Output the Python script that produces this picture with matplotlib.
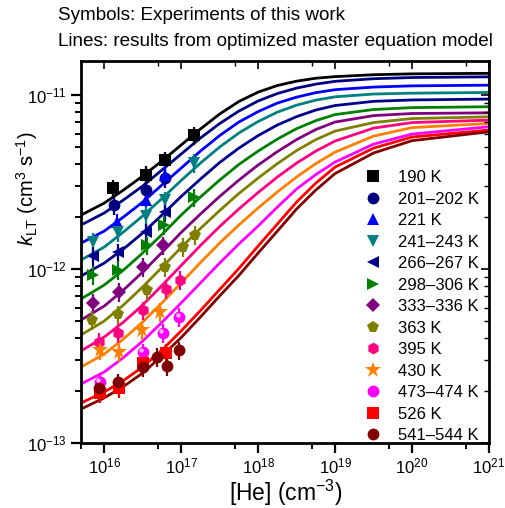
import numpy as np
import matplotlib
matplotlib.use('Agg')
import matplotlib.pyplot as plt
from matplotlib.ticker import FixedLocator, NullFormatter, LogFormatterSciNotation
from matplotlib.lines import Line2D
from matplotlib.transforms import offset_copy

plt.rcParams['font.family'] = ['Liberation Sans', 'DejaVu Sans']
plt.rcParams['mathtext.fontset'] = 'custom'
plt.rcParams['mathtext.rm'] = 'Liberation Sans'
plt.rcParams['mathtext.it'] = 'Liberation Sans:italic'
plt.rcParams['mathtext.bf'] = 'Liberation Sans:bold'

# ---------------- data ----------------
labels = ['190 K', '201–202 K', '221 K', '241–243 K', '266–267 K', '298–306 K',
          '333–336 K', '363 K', '395 K', '430 K', '473–474 K', '526 K', '541–544 K']
colors = ['#000000', '#000080', '#0000FF', '#008080', '#00008B', '#008000',
          '#800080', '#808000', '#FF0080', '#FF8000', '#FF00FF', '#FF0000', '#800000']
markers = ['s', 'o', '^', 'v', '<', '>', 'D', 'p', 'h', '*', 'o', 's', 'o']

# axis ticks
x_major = [1e16, 1e17, 1e18, 1e19, 1e20, 1e21]
x_minor = [5e15, 5e16, 5e17, 5e18, 5e19, 5e20]
y_major = [1e-13, 1e-12, 1e-11]
y_minor = [m * 10.0 ** e for e in (-13, -12, -11) for m in range(2, 10) if m * 10.0 ** e < 1.57e-11]

# model grid ([He], cm^-3)
he_model = [5e15, 1e16, 1.78e16, 3.16e16, 5.62e16, 1e17, 1.78e17, 3.16e17, 5.62e17,
            1e18, 1.78e18, 3.16e18, 5.62e18, 1e19, 3.16e19, 1e20, 1e21]
# model log10(k_LT / cm^3 s^-1)
m190 = [-11.690, -11.621, -11.546, -11.466, -11.379, -11.287, -11.195, -11.109, -11.037,
        -10.983, -10.945, -10.920, -10.903, -10.894, -10.883, -10.878, -10.875]
m201 = [-11.747, -11.678, -11.603, -11.523, -11.431, -11.339, -11.247, -11.164, -11.092,
        -11.034, -10.991, -10.960, -10.937, -10.921, -10.906, -10.899, -10.895]
m221 = [-11.851, -11.782, -11.701, -11.615, -11.517, -11.420, -11.322, -11.233, -11.155,
        -11.095, -11.046, -11.012, -10.986, -10.969, -10.954, -10.947, -10.943]
m241 = [-11.948, -11.874, -11.787, -11.695, -11.595, -11.491, -11.391, -11.299, -11.218,
        -11.152, -11.098, -11.058, -11.029, -11.010, -10.994, -10.989, -10.985]
m266 = [-12.040, -11.966, -11.885, -11.793, -11.690, -11.583, -11.483, -11.388, -11.305,
        -11.233, -11.172, -11.124, -11.086, -11.060, -11.036, -11.028, -11.023]
m298 = [-12.172, -12.092, -12.006, -11.908, -11.802, -11.690, -11.586, -11.489, -11.399,
        -11.322, -11.253, -11.193, -11.147, -11.112, -11.083, -11.072, -11.067]
m333 = [-12.293, -12.213, -12.121, -12.017, -11.905, -11.790, -11.684, -11.583, -11.489,
        -11.402, -11.325, -11.256, -11.198, -11.155, -11.118, -11.106, -11.102]
m363 = [-12.379, -12.299, -12.207, -12.103, -11.991, -11.876, -11.767, -11.664, -11.566,
        -11.477, -11.394, -11.319, -11.256, -11.207, -11.158, -11.135, -11.125]
m395 = [-12.471, -12.391, -12.305, -12.207, -12.095, -11.980, -11.865, -11.756, -11.655,
        -11.560, -11.471, -11.391, -11.322, -11.264, -11.190, -11.158, -11.144]
m430 = [-12.563, -12.489, -12.402, -12.305, -12.195, -12.080, -11.963, -11.851, -11.747,
        -11.649, -11.557, -11.471, -11.394, -11.328, -11.236, -11.187, -11.163]
m473 = [-12.661, -12.592, -12.509, -12.414, -12.307, -12.195, -12.080, -11.966, -11.856,
        -11.753, -11.644, -11.540, -11.457, -11.385, -11.282, -11.224, -11.182]
m526 = [-12.770, -12.707, -12.641, -12.563, -12.466, -12.356, -12.239, -12.118, -11.997,
        -11.868, -11.741, -11.615, -11.506, -11.414, -11.305, -11.241, -11.201]
m541 = [-12.805, -12.741, -12.675, -12.598, -12.500, -12.394, -12.276, -12.155, -12.037,
        -11.908, -11.782, -11.655, -11.546, -11.451, -11.333, -11.262, -11.211]

# experiments ([He] cm^-3, k_LT in 1e-12 cm^3 s^-1)
he190 = [1.3e16, 3.5e16, 6.2e16, 1.45e17]
k190 = [2.92, 3.47, 4.23, 5.89]
he201 = [1.35e16, 3.5e16, 6.2e16]
k201 = [2.33, 2.84, 3.33]
he221 = [1.45e16, 3.5e16, 6.2e16]
k221 = [1.86, 2.49, 3.47]
he241 = [7.2e15, 1.5e16, 3.5e16, 6.2e16, 1.45e17]
k241 = [1.43, 1.63, 2.02, 2.49, 4.07]
he266 = [7.2e15, 1.5e16, 3.5e16, 6.2e16]
k266 = [1.19, 1.25, 1.63, 2.13]
he298 = [7.2e15, 1.5e16, 3.6e16, 6.0e16, 1.45e17]
k298 = [0.924, 0.987, 1.37, 1.79, 2.59]
he333 = [7.2e15, 1.55e16, 3.2e16, 5.8e16]
k333 = [0.638, 0.738, 1.027, 1.37]
he363 = [7.0e15, 1.52e16, 3.6e16, 6.2e16, 1.06e17, 1.52e17]
k363 = [0.509, 0.551, 0.757, 1.027, 1.34, 1.57]
he395 = [8.6e15, 1.52e16, 3.2e16, 6.4e16, 9.7e16]
k395 = [0.381, 0.429, 0.581, 0.768, 0.865]
he430 = [8.8e15, 1.55e16, 3.1e16, 5.3e16]
k430 = [0.342, 0.333, 0.446, 0.566]
he473 = [8.8e15, 3.2e16, 5.8e16, 9.5e16]
k473 = [0.224, 0.333, 0.429, 0.530]
he526 = [8.8e15, 1.55e16, 3.2e16, 6.4e16]
k526 = [0.194, 0.207, 0.288, 0.330]
he541 = [8.6e15, 1.52e16, 3.2e16, 4.9e16, 6.6e16, 9.4e16]
k541 = [0.207, 0.224, 0.273, 0.312, 0.277, 0.342]

models = [m190, m201, m221, m241, m266, m298, m333, m363, m395, m430, m473, m526, m541]
exp_he = [he190, he201, he221, he241, he266, he298, he333, he363, he395, he430, he473, he526, he541]
exp_k = [k190, k201, k221, k241, k266, k298, k333, k363, k395, k430, k473, k526, k541]
rel_err = 0.12


def msize(mk):
    if mk == '*':
        return 12
    if mk == 'D':
        return 7.5
    return 8.5


# ---------------- figure ----------------
fig = plt.figure(figsize=(5.06, 5.08), dpi=100)
pos = [81/506, 65/508, 408/506, 382/508]
ax = fig.add_axes(pos)
ax.set_xscale('log')
ax.set_yscale('log')

for m, c in zip(models, colors):
    ax.plot(he_model, 10.0 ** np.array(m), color=c, lw=2, zorder=2)

for i, (he, k, c, mk) in enumerate(zip(exp_he, exp_k, colors, markers)):
    kk = np.array(k) * 1e-12
    ax.errorbar(he, kk, yerr=rel_err * kk, fmt=mk, color=c, ms=msize(mk), mew=0,
                ecolor=c, elinewidth=1.6, capsize=4.5, capthick=1.6, zorder=3)
    if labels[i].startswith('473'):
        # sphere highlight
        hl = offset_copy(ax.transData, fig=fig, x=-1.3, y=1.3, units='points')
        ax.plot(he, kk, 'o', ms=3.2, color='#FFB8FF', mew=0, transform=hl, zorder=4)

ax.set_xlim(5e15, 1e21)
ax.set_ylim(1e-13, 1.57e-11)

for s in ax.spines.values():
    s.set_linewidth(2)

ax.xaxis.set_major_locator(FixedLocator(x_major))
ax.xaxis.set_minor_locator(FixedLocator(x_minor))
ax.xaxis.set_major_formatter(LogFormatterSciNotation())
ax.xaxis.set_minor_formatter(NullFormatter())
ax.yaxis.set_major_locator(FixedLocator(y_major))
ax.yaxis.set_minor_locator(FixedLocator(y_minor))
ax.yaxis.set_major_formatter(LogFormatterSciNotation())
ax.yaxis.set_minor_formatter(NullFormatter())
ax.tick_params(which='major', direction='out', length=7, width=1.6, labelsize=12, pad=3)
ax.tick_params(which='minor', direction='out', length=4, width=1.4)

# inward ticks on top and right
ax2 = fig.add_axes(pos, sharex=ax, sharey=ax)
ax2.patch.set_visible(False)
for s in ax2.spines.values():
    s.set_visible(False)
ax2.tick_params(which='both', direction='in', left=False, bottom=False, top=True, right=True,
                labelleft=False, labelbottom=False, labeltop=False, labelright=False)
ax2.tick_params(which='major', length=6, width=1.2)
ax2.tick_params(which='minor', length=3.5, width=1.0)

ax.set_xlabel('[He] (cm$^{-3}$)', fontsize=16.5)
ax.xaxis.set_label_coords(0.501, -0.092)
ax.set_ylabel('$k_{\\mathrm{LT}}$ (cm$^{3}$ s$^{-1}$)', fontsize=14.5)
ax.yaxis.set_label_coords(-0.100, 0.665)

handles = [Line2D([], [], ls='none', marker=mk, color=c, mew=0, ms=msize(mk))
           for mk, c in zip(markers, colors)]
ax2.legend(handles, labels, loc='upper left', bbox_to_anchor=(365/506, 1 - 170/508),
           bbox_transform=fig.transFigure, frameon=False, fontsize=12,
           handlelength=1.0, handletextpad=1.0, labelspacing=0.39, borderpad=0,
           borderaxespad=0)

fig.text(58/506, 1 - 20/508, 'Symbols: Experiments of this work', fontsize=13.6, va='baseline')
fig.text(58/506, 1 - 46/508, 'Lines: results from optimized master equation model',
         fontsize=13.6, va='baseline')

fig.savefig('out.png', dpi=100)
